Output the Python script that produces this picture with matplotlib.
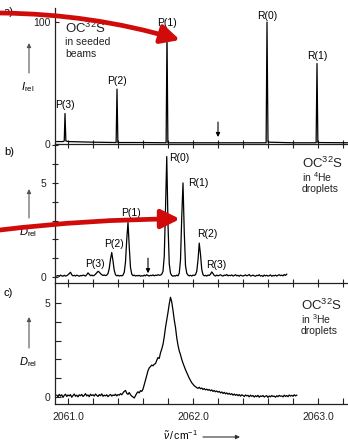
import numpy as np
import matplotlib.pyplot as plt
from matplotlib.patches import FancyArrowPatch

plt.rcParams['font.family'] = ['Liberation Sans', 'DejaVu Sans']
plt.rcParams['mathtext.fontset'] = 'custom'
plt.rcParams['mathtext.rm'] = 'Liberation Sans'
plt.rcParams['mathtext.it'] = 'Liberation Sans:italic'

# ---- data ----
# a) seeded beam spectrum (I_rel)
wn_a = [2060.91, 2060.96, 2060.970, 2060.976, 2060.983, 2061.00, 2061.20,
        2061.385, 2061.392, 2061.399, 2061.60, 2061.785, 2061.792, 2061.799,
        2062.00, 2062.20, 2062.585, 2062.592, 2062.600, 2062.80,
        2062.985, 2062.992, 2062.999, 2063.24]
int_a = [2.0, 2.0, 2.5, 25, 2.5, 2.0, 1.5,
         1.2, 45, 1.2, 1.2, 1.0, 92, 1.0,
         1.0, 1.0, 1.0, 100, 1.5, 1.0,
         1.0, 66, 1.2, 1.0]

# b) 4He droplets, sampled every 0.01 cm-1 from 2060.91
start_b, step_b = 2060.91, 0.01
dep_b = [0.05, 0.08, 0.03, 0.10, 0.06, 0.04, 0.09, 0.05, 0.07, 0.12,
         0.18, 0.25, 0.12, 0.06, 0.09, 0.05, 0.10, 0.07, 0.04, 0.08,
         0.06, 0.10, 0.08, 0.05, 0.12, 0.22, 0.14, 0.07, 0.10, 0.06,
         0.09, 0.15, 0.22, 0.30, 0.26, 0.18, 0.12, 0.08, 0.11, 0.07,
         0.10, 0.18, 0.45, 0.95, 1.30, 0.85, 0.35, 0.12, 0.06, 0.09,
         0.05, 0.08, 0.06, 0.10, 0.25, 0.80, 2.00, 2.90, 1.60, 0.50,
         0.15, 0.07, 0.10, 0.05, 0.08, 0.06, 0.09, 0.04, 0.07, 0.05,
         0.10, 0.06, 0.12, 0.08, 0.05, 0.09, 0.07, 0.11, 0.06, 0.10,
         0.08, 0.12, 0.09, 0.10, 0.15, 0.30, 1.10, 3.60, 6.40, 2.80,
         0.70, 0.20, 0.08, 0.04, 0.07, 0.05, 0.10, 0.06, 0.20, 0.90,
         3.20, 5.00, 2.40, 0.60, 0.20, 0.10, 0.06, 0.09, 0.05, 0.10,
         0.08, 0.12, 0.30, 0.90, 1.80, 1.20, 0.40, 0.12, 0.06, 0.09,
         0.05, 0.10, 0.08, 0.15, 0.27, 0.18, 0.08, 0.05, 0.10, 0.06,
         0.09, 0.12, 0.07, 0.05, 0.10, 0.08, 0.13, 0.06, 0.09, 0.07,
         0.11, 0.05, 0.08, 0.12, 0.06, 0.09, 0.04, 0.10, 0.07, 0.05,
         0.08, 0.11, 0.06, 0.09, 0.13, 0.05, 0.07, 0.10, 0.06, 0.04,
         0.09, 0.07, 0.12, 0.05, 0.08, 0.03, 0.10, 0.06, 0.09, 0.05,
         0.07, 0.11, 0.04, 0.08, 0.06, 0.10, 0.05, 0.09, 0.12, 0.07,
         0.10, 0.06, 0.13, 0.08, 0.15]

# c) 3He droplets, sampled every 0.01 cm-1 from 2060.91
start_c, step_c = 2060.91, 0.01
dep_c = [0.10, 0.02, 0.14, 0.05, 0.12, -0.02, 0.09, 0.15, 0.03, 0.11,
         0.06, 0.13, -0.01, 0.08, 0.16, 0.04, 0.10, 0.01, 0.12, 0.07,
         0.14, 0.03, 0.09, 0.18, 0.06, 0.11, 0.02, 0.15, 0.08, 0.12,
         0.05, 0.16, 0.09, 0.03, 0.13, 0.07, 0.17, 0.04, 0.10, 0.06,
         0.12, 0.02, 0.09, 0.14, 0.05, 0.11, 0.08, 0.15, 0.06, 0.13,
         0.10, 0.18, 0.12, 0.22, 0.30, 0.35, 0.20, 0.14, 0.24, 0.12,
         0.05, 0.00, -0.05, 0.08, 0.20, 0.28, 0.22, 0.34, 0.30, 0.42,
         0.65, 0.90, 1.15, 1.40, 1.55, 1.62, 1.70, 1.66, 1.74, 1.78,
         1.95, 2.10, 2.05, 2.35, 2.55, 2.80, 3.20, 3.70, 4.10, 4.50,
         4.95, 5.30, 5.05, 4.60, 4.10, 3.70, 3.15, 2.75, 2.45, 2.25,
         2.00, 1.80, 1.62, 1.45, 1.30, 1.15, 1.00, 0.88, 0.76, 0.68,
         0.60, 0.55, 0.50, 0.46, 0.52, 0.44, 0.48, 0.40, 0.45, 0.38,
         0.42, 0.36, 0.40, 0.33, 0.38, 0.30, 0.35, 0.28, 0.32, 0.26,
         0.30, 0.22, 0.27, 0.19, 0.25, 0.17, 0.22, 0.15, 0.20, 0.13,
         0.18, 0.10, 0.16, 0.09, 0.14, 0.07, 0.13, 0.05, 0.12, 0.08,
         0.03, 0.11, 0.06, 0.09, 0.01, 0.10, 0.04, 0.08, 0.00, 0.07,
         0.02, 0.09, -0.01, 0.06, 0.03, 0.08, 0.00, 0.05, 0.07, -0.02,
         0.06, 0.01, 0.08, 0.03, 0.05, -0.01, 0.07, 0.02, 0.09, 0.04,
         0.06, 0.01, 0.10, 0.03, 0.08, 0.02, 0.11, 0.05, 0.09, 0.04,
         0.12, 0.06, 0.10]

labels_a = ["P(3)", "P(2)", "P(1)", "R(0)", "R(1)"]
lab_pos_a = [(2060.976, 32), (2061.392, 52), (2061.792, 99), (2062.592, 105), (2062.992, 72)]
labels_b = ["P(3)", "P(2)", "P(1)", "R(0)", "R(1)", "R(2)", "R(3)"]
lab_pos_b = [(2061.216, 0.7), (2061.372, 1.75), (2061.504, 3.4), (2061.888, 6.33),
             (2062.04, 5.0), (2062.112, 2.29), (2062.184, 0.64)]

xticks = np.round(np.arange(2061.0, 2063.21, 0.2), 1)
xlim = (2060.896, 2063.24)

W, H = 348, 443
fig = plt.figure(figsize=(W / 100, H / 100), dpi=100)


def box(top, bottom):
    return [55 / W, 1 - bottom / H, 1 - 55 / W, (bottom - top) / H]


def px(x, y):
    return (x / W, 1 - y / H)


ax_a = fig.add_axes(box(8, 144))
ax_b = fig.add_axes(box(144, 283))
ax_c = fig.add_axes(box(283, 404))

wn_b = start_b + step_b * np.arange(len(dep_b))
wn_c = start_c + step_c * np.arange(len(dep_c))

ax_a.plot(wn_a, int_a, color='k', lw=0.9)
ax_b.plot(wn_b, dep_b, color='k', lw=0.9)
ax_c.plot(wn_c, dep_c, color='k', lw=0.9)

ax_a.set_ylim(0, 111.5)
ax_b.set_ylim(-0.32, 7.07)
ax_c.set_ylim(-0.37, 6.06)

for ax in (ax_a, ax_b, ax_c):
    ax.set_xlim(*xlim)
    ax.patch.set_alpha(0)
    for s in ('top', 'right'):
        ax.spines[s].set_visible(False)
    for s in ('left', 'bottom'):
        ax.spines[s].set_linewidth(0.9)
        ax.spines[s].set_color('#222222')
    ax.set_xticks(xticks)
    ax.tick_params(labelsize=7.5, width=0.8, colors='#222222')

ax_a.tick_params(axis='x', direction='inout', length=6, labelbottom=False)
ax_b.tick_params(axis='x', direction='inout', length=6, labelbottom=False)
ax_c.tick_params(axis='x', direction='in', length=4, pad=6)
ax_c.set_xticklabels([f"{t:.1f}" if abs(t - round(t)) < 1e-6 else "" for t in xticks])

ax_a.set_yticks([0, 100])
ax_a.tick_params(axis='y', direction='in', length=3)
ax_b.set_yticks(range(0, 8))
ax_b.set_yticklabels(['0', '', '', '', '', '5', '', ''])
ax_b.tick_params(axis='y', direction='inout', length=5)
ax_c.set_yticks(range(0, 6))
ax_c.set_yticklabels(['0', '', '', '', '', '5'])
ax_c.tick_params(axis='y', direction='in', length=4)

for lab, (x, y) in zip(labels_a, lab_pos_a):
    ax_a.text(x, y, lab, ha='center', va='center', fontsize=7.5)
for lab, (x, y) in zip(labels_b, lab_pos_b):
    ax_b.text(x, y, lab, ha='center', va='center', fontsize=7.5)

small_arrow = dict(arrowstyle='-|>', lw=0.8, color='k', mutation_scale=6, shrinkA=0, shrinkB=0)
ax_a.annotate('', xy=(2062.2, 5.7), xytext=(2062.2, 18), arrowprops=small_arrow)
ax_b.annotate('', xy=(2061.64, 0.2), xytext=(2061.64, 1.0), arrowprops=small_arrow)

# sample descriptions
for (x, y0), second in [((65, 28), "in seeded"), ((302, 163), "in $^4$He"), ((301, 305), "in $^3$He")]:
    fig.text(*px(x, y0), "OC$^{32}$S", fontsize=9.5, ha='left', va='center', color='#222222')
    fig.text(*px(x, y0 + 14), second, fontsize=7.5, ha='left', va='center', color='#222222')
    fig.text(*px(x, y0 + 26), "beams" if second == "in seeded" else "droplets",
             fontsize=7.5, ha='left', va='center', color='#222222')

# panel letters
fig.text(*px(4, 12), "a)", fontsize=8, ha='left', va='center')
fig.text(*px(4, 152), "b)", fontsize=8, ha='left', va='center')
fig.text(*px(4, 293), "c)", fontsize=8, ha='left', va='center')

# y labels with upward arrows
for (y_tail, y_head, y_text, txt) in [(73, 43, 87, r"$I_\mathrm{rel}$"),
                                      (218, 189, 232, r"$D_\mathrm{rel}$"),
                                      (348, 317, 362, r"$D_\mathrm{rel}$")]:
    fig.add_artist(FancyArrowPatch(px(29, y_tail), px(29, y_head), transform=fig.transFigure,
                                   arrowstyle='-|>', mutation_scale=6, lw=0.8, color='#555555',
                                   shrinkA=0, shrinkB=0))
    fig.text(*px(28, y_text), txt, fontsize=8, ha='center', va='center')

# x label with arrow
fig.text(*px(180, 435), r"$\tilde{\nu}\,/\,\mathrm{cm}^{-1}$", fontsize=7.5, ha='center', va='center')
fig.add_artist(FancyArrowPatch(px(203, 437), px(240, 437), transform=fig.transFigure,
                               arrowstyle='-|>', mutation_scale=6, lw=0.8, color='#333333',
                               shrinkA=0, shrinkB=0))

# red overlay arrows
for start, end, rad in [((0, 13), (180, 40), -0.07), ((0, 230), (180, 219), -0.03)]:
    fig.add_artist(FancyArrowPatch(px(*start), px(*end), transform=fig.transFigure,
                                   connectionstyle=f'arc3,rad={rad}', arrowstyle='-|>',
                                   mutation_scale=28, lw=3.4, color='#d10a0a',
                                   shrinkA=0, shrinkB=0, zorder=10))

fig.savefig("out.png", dpi=100)
